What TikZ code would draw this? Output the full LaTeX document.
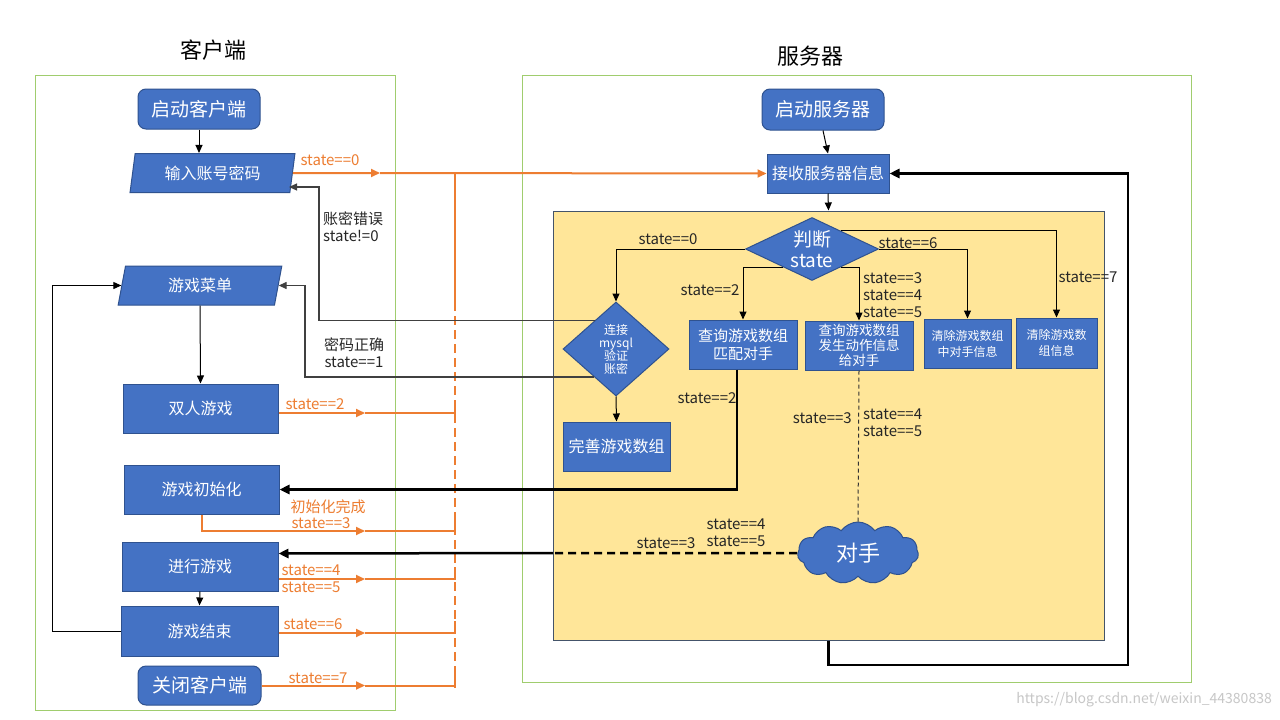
\documentclass[tikz,border=0pt]{standalone}
\usepackage{fontspec}
\setmainfont{Noto Sans CJK SC}
\usetikzlibrary{shapes.geometric,shapes.symbols,arrows.meta}
\definecolor{bl}{RGB}{68,114,196}
\definecolor{bb}{RGB}{47,82,143}
\definecolor{org}{RGB}{237,125,49}
\definecolor{grn}{RGB}{160,205,110}
\definecolor{ylw}{RGB}{255,230,153}
\definecolor{ybd}{RGB}{68,84,106}
\definecolor{gln}{RGB}{64,64,64}
\newcommand{\myfs}[1]{\fontsize{#1}{#1}\selectfont}
\tikzset{
 bbox/.style={draw=bb, fill=bl, text=white, line width=1pt, inner sep=0pt, align=center, font=\myfs{16}},
 rbox/.style={bbox, rounded corners=8pt, font=\myfs{19}},
 pbox/.style={bbox, trapezium, trapezium left angle=78, trapezium right angle=102, trapezium stretches=true},
 dbox/.style={bbox, diamond},
 oline/.style={draw=org, line width=2pt},
 otip/.style={-{Triangle[length=9pt,width=8pt]}},
 btip/.style={-{Triangle[length=8pt,width=7pt]}},
 ktip/.style={-{Triangle[length=10pt,width=9pt]}},
 bline/.style={draw=black, line width=1pt},
 gline/.style={draw=gln, line width=1.2pt},
 kline/.style={draw=black, line width=2.5pt},
 lab/.style={inner sep=0pt, align=center, font=\fontsize{15}{17}\selectfont, text=black!85},
 olab/.style={lab, text=org},
}
\begin{document}
\begin{tikzpicture}[x=1pt,y=-1pt]
\fill[white] (0,0) rectangle (1280,720);
\useasboundingbox (0,0) rectangle (1280,720);

% titles
\node[font=\myfs{22}] (tC) at (213,50) {客户端};
\node[font=\myfs{22}] (tS) at (810,56) {服务器};

% containers
\draw[grn, line width=1pt] (35,75) rectangle (395,710);
\draw[grn, line width=1pt] (522,75) rectangle (1191,682);
\node[draw=ybd, fill=ylw, line width=1pt, minimum width=551pt, minimum height=429pt, inner sep=0pt] (yb) at (828.5,425.5) {};

% client nodes
\node[rbox, minimum width=122pt, minimum height=40pt] (startC) at (199,109) {启动客户端};
\node[pbox, minimum width=165pt, minimum height=39pt] (in) at (212.5,173) {输入账号密码};
\node[pbox, minimum width=164pt, minimum height=39pt] (menu) at (200,285.5) {游戏菜单};
\node[bbox, minimum width=155pt, minimum height=49pt] (duel) at (200.5,408.5) {双人游戏};
\node[bbox, minimum width=155pt, minimum height=49pt] (init) at (201.5,489.5) {游戏初始化};
\node[bbox, minimum width=156pt, minimum height=49pt] (play) at (200,566.5) {进行游戏};
\node[bbox, minimum width=157pt, minimum height=50pt] (gend) at (199.5,631) {游戏结束};
\node[rbox, minimum width=123pt, minimum height=39pt] (close) at (199.5,685.5) {关闭客户端};

% server nodes
\node[rbox, minimum width=122pt, minimum height=41pt] (startS) at (823,109.5) {启动服务器};
\node[bbox, minimum width=122pt, minimum height=39pt] (recv) at (828,173.5) {接收服务器信息};
\node[dbox, aspect=2.1, minimum width=133pt, minimum height=63pt, font=\fontsize{19}{21}\selectfont] (judge) at (812,249) {判断\\state};
\node[dbox, minimum width=106pt, minimum height=94pt, font=\fontsize{12}{13}\selectfont] (mysql) at (616,349) {连接\\mysql\\验证\\账密};
\node[bbox, minimum width=107pt, minimum height=49pt] (perf) at (616.5,446.5) {完善游戏数组};
\node[bbox, minimum width=108pt, minimum height=49pt, font=\fontsize{15}{18}\selectfont] (match) at (743,344.5) {查询游戏数组\\匹配对手};
\node[bbox, minimum width=108pt, minimum height=49pt, font=\fontsize{13.5}{15}\selectfont] (act) at (859,345.5) {查询游戏数组\\发生动作信息\\给对手};
\node[bbox, minimum width=87pt, minimum height=49pt, font=\fontsize{12}{16}\selectfont] (clr1) at (967.5,343.5) {清除游戏数组\\中对手信息};
\node[bbox, minimum width=81pt, minimum height=50pt, font=\fontsize{12}{16}\selectfont] (clr2) at (1056.5,343) {清除游戏数\\组信息};
\node[cloud, draw=bb, fill=bl, text=white, line width=1pt, cloud puffs=11, cloud puff arc=110, cloud ignores aspect, minimum width=121pt, minimum height=62pt, inner sep=0pt, font=\myfs{22}] (opp) at (858,553) {对手};

% client black arrows
\draw[bline, btip] (startC.south) -- (startC.south |- in.north);
\draw[bline, btip] (menu.south) -- (duel.north);
\draw[bline, btip] (play.south) -- (gend.north);
\draw[bline, btip] (gend.west) -- ++(-68,0) |- (menu.west);

% server black arrows
\draw[bline, btip] (startS.south) -- (recv.north);
\draw[bline, btip] (recv.south) -- (yb.north);
\coordinate (lb) at (828.5,665);
\coordinate (lr) at (1128,665);
\draw[kline, ktip] (yb.south) -- (lb) -- (lr) |- (recv.east);

% inside judge
\draw[bline, btip] (judge.west) -| (mysql.north);
\draw[bline, btip] (judge.212) -| (match.north);
\draw[bline, btip] (judge.328) -| (act.north);
\draw[bline, btip] (judge.east) -| (clr1.north);
\draw[bline, btip] (judge.32) -| (clr2.north);
\draw[bline, btip] (mysql.south) -- (perf.north);

% orange lines
\coordinate (m0) at (380,173);
\draw[oline, otip] (in.east) -- (m0);
\draw[oline, otip] (m0) -- (recv.west);
\coordinate (bTop) at (455,173);
\coordinate (bMid) at (455,302);
\coordinate (bBot) at (455,688);
\draw[oline] (bTop) -- (bMid);
\draw[oline, dash pattern=on 9pt off 5pt] (bMid) -- (bBot);

\coordinate (m2) at (365,413); \coordinate (j2) at (455,413);
\draw[oline, otip] (duel.east |- m2) -- (m2);
\draw[oline] (m2) -- (j2) -- ++(0,-12);
\coordinate (m3) at (365,531); \coordinate (j3) at (455,531);
\draw[oline, otip] (init.south) |- (m3);
\draw[oline] (m3) -- (j3) -- ++(0,-12);
\coordinate (m4) at (365,579); \coordinate (j4) at (455,579);
\draw[oline, otip] (play.east |- m4) -- (m4);
\draw[oline] (m4) -- (j4) -- ++(0,-12);
\coordinate (m6) at (365,633); \coordinate (j6) at (455,633);
\draw[oline, otip] (gend.east |- m6) -- (m6);
\draw[oline] (m6) -- (j6) -- ++(0,-12);
\coordinate (m7) at (365,685.5); \coordinate (j7) at (455,685.5);
\draw[oline, otip] (close.east) -- (m7);
\draw[oline] (m7) -- (j7) -- ++(0,-12);

% gray return lines
\coordinate (g1) at (319,0);
\coordinate (inR) at (289,187);
\draw[gline, btip] (mysql.127) -- (mysql.127 -| g1) |- (inR);
\coordinate (g2) at (305,0);
\draw[gline, btip] (mysql.232) -- (mysql.232 -| g2) |- (menu.east);

% thick black to client
\draw[kline, ktip] ([xshift=-6pt]match.south) |- (init.east);
\coordinate (ybL) at (553,553);
\draw[kline, dash pattern=on 8pt off 5pt] (opp.west) -- (ybL);
\draw[kline, ktip] (ybL) -- ([yshift=13pt]play.east);
\draw[draw=black!80, line width=1pt, dash pattern=on 4pt off 3pt] (act.south) -- (opp.north);

% labels client
\node[olab] (l0) at (330,160) {state==0};
\node[lab, anchor=west, align=left] (lerr) at (323,227) {账密错误\\state!=0};
\node[lab] (lok) at (354,353) {密码正确\\state==1};
\node[olab] (l2) at (315,404) {state==2};
\node[olab] (l3a) at (328,507) {初始化完成};
\node[olab] (l3) at (321,523.5) {state==3};
\node[olab] (l4) at (311,578.5) {state==4\\state==5};
\node[olab] (l6) at (313,624) {state==6};
\node[olab] (l7) at (318,678) {state==7};

% labels server
\node[lab] (s0) at (668,239) {state==0};
\node[lab] (s2) at (710,290) {state==2};
\node[lab, anchor=west, align=left] (s345) at (863,295) {state==3\\state==4\\state==5};
\node[lab] (s6) at (908,243) {state==6};
\node[lab] (s7) at (1088,277) {state==7};
\node[lab] (s2b) at (707,398) {state==2};
\node[lab, anchor=east] (s3b) at (852,418) {state==3};
\node[lab, anchor=west, align=left] (s45b) at (863,423) {state==4\\state==5};
\node[lab] (s3c) at (666,543) {state==3};
\node[lab] (s45c) at (736,532.5) {state==4\\state==5};

% watermark
\node[anchor=east, inner sep=0pt, text=black!22, font=\myfs{14}] (wm) at (1272,700) {https://blog.csdn.net/weixin\_44380838};
\end{tikzpicture}
\end{document}
